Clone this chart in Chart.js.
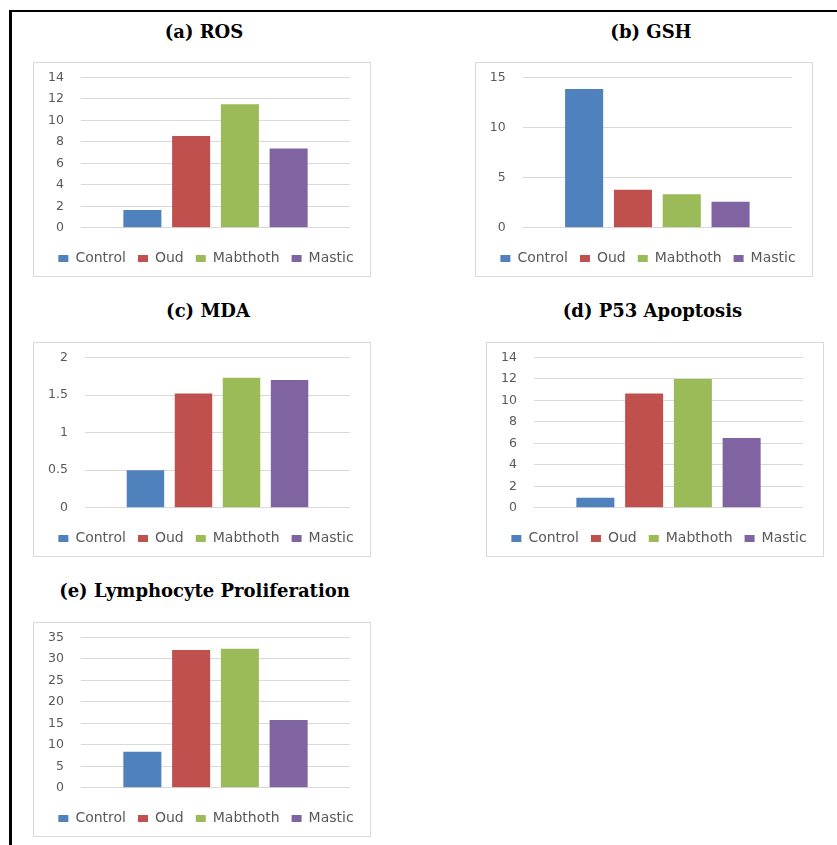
<!DOCTYPE html>
<html><head><meta charset="utf-8">
<script src="https://cdn.jsdelivr.net/npm/chart.js@4.4.0/dist/chart.umd.min.js"></script>
<style>
body{margin:0;background:#fff;width:837px;height:845px;overflow:hidden;position:relative;font-family:"DejaVu Sans";}
.frame{position:absolute;left:9px;top:10px;width:900px;height:900px;border-left:3px solid #000;border-top:2px solid #000;}
.box{position:absolute;width:336px;height:213px;border:1px solid #d9d9d9;background:#fff}
.box canvas{display:block}
.title{position:absolute;font-family:"DejaVu Serif";font-weight:bold;font-size:18px;color:#000;transform:translate(-50%,-50%);white-space:nowrap;line-height:1}
</style></head><body>
<div class="frame"></div>
<div id="root"></div>
<script>
// ---- data ----
const seriesNames = ["Control", "Oud", "Mabthoth", "Mastic"];
const seriesColors = ["#4F81BD", "#C0504D", "#9BBB59", "#8064A2"];
const chartTitles = ["(a) ROS", "(b) GSH", "(c) MDA", "(d) P53 Apoptosis", "(e) Lymphocyte Proliferation"];
const rosValues = [1.65, 8.55, 11.5, 7.38];
const gshValues = [13.85, 3.8, 3.35, 2.6];
const mdaValues = [0.5, 1.52, 1.73, 1.70];
const p53Values = [0.93, 10.65, 12.0, 6.5];
const lymphValues = [8.4, 32.1, 32.4, 15.8];
const axisMax = [14, 15, 2, 14, 35];
const axisStep = [2, 5, 0.5, 2, 5];
const allValues = [rosValues, gshValues, mdaValues, p53Values, lymphValues];

// ---- layout (page positions) ----
const boxPos = [[33, 62], [475, 62], [33, 342], [486, 342], [33, 622]];
const titlePos = [[204, 31.5], [651, 31.5], [208, 311], [652.5, 311], [204.5, 591]];
const yAxisWidth = [47, 46.7, 51, 47, 47];
const legendShift = 4;

const shiftLegend = {
  id: 'shiftLegend',
  afterLayout(chart) {
    if (chart.legend) { chart.legend.left += legendShift; chart.legend.right += legendShift; }
  }
};

const root = document.getElementById('root');
allValues.forEach((vals, k) => {
  const t = document.createElement('div');
  t.className = 'title';
  t.textContent = chartTitles[k];
  t.style.left = titlePos[k][0] + 'px';
  t.style.top = titlePos[k][1] + 'px';
  root.appendChild(t);

  const box = document.createElement('div');
  box.className = 'box';
  box.style.left = boxPos[k][0] + 'px';
  box.style.top = boxPos[k][1] + 'px';
  const cv = document.createElement('canvas');
  cv.width = 336; cv.height = 213;
  cv.style.width = '336px'; cv.style.height = '213px';
  box.appendChild(cv);
  root.appendChild(box);

  new Chart(cv, {
    type: 'bar',
    data: {
      labels: [''],
      datasets: seriesNames.map((n, i) => ({
        label: n,
        data: [vals[i]],
        backgroundColor: seriesColors[i],
        borderWidth: 0,
        categoryPercentage: 0.725,
        barPercentage: 0.78
      }))
    },
    plugins: [shiftLegend],
    options: {
      responsive: false,
      animation: false,
      devicePixelRatio: 1,
      layout: { padding: { top: 14.5, right: 0, bottom: 0.5, left: 0 } },
      plugins: {
        tooltip: { enabled: false },
        legend: {
          position: 'bottom',
          labels: {
            boxWidth: 10, boxHeight: 7, padding: 12, color: '#595959',
            font: { family: 'DejaVu Sans', size: 14 }
          }
        }
      },
      scales: {
        x: {
          grid: { display: false, drawTicks: false },
          border: { display: false },
          ticks: { display: false },
          afterFit: s => { s.height = 11.75; }
        },
        y: {
          min: 0, max: axisMax[k],
          ticks: {
            stepSize: axisStep[k], padding: 0, color: '#595959',
            font: { family: 'DejaVu Sans', size: 12.5 },
            callback: v => String(Math.round(v * 100) / 100)
          },
          grid: { color: '#d9d9d9', lineWidth: 1, drawTicks: true, tickLength: 17, tickColor: 'rgba(0,0,0,0)' },
          border: { display: false },
          afterFit: s => { s.width = yAxisWidth[k]; }
        },
        yPad: {
          type: 'linear', position: 'right',
          grid: { display: false, drawTicks: false },
          border: { display: false },
          ticks: { display: false },
          afterFit: s => { s.width = 20; }
        }
      }
    }
  });
});
</script>
</body></html>
